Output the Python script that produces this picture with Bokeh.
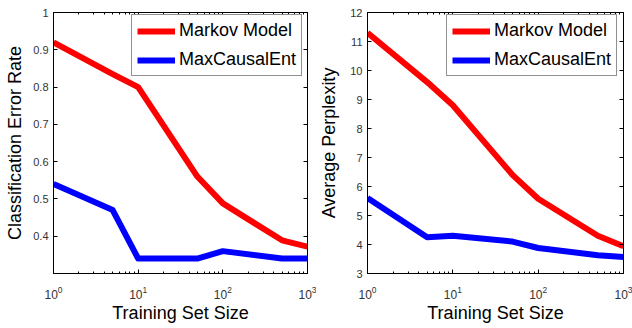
from bokeh.plotting import figure
from bokeh.layouts import row
from bokeh.models import (FixedTicker, LogTickFormatter, LogAxis, LinearAxis,
                          Legend, LegendItem, CustomJSTickFormatter)
from bokeh.embed import file_html
from bokeh.resources import INLINE

# ---- data ----
train_sizes = [1, 5, 10, 50, 100, 500, 1000]
err_markov = [0.92, 0.835, 0.80, 0.56, 0.488, 0.389, 0.372]
err_maxent = [0.54, 0.47, 0.34, 0.34, 0.36, 0.34, 0.34]
ppl_markov = [11.3, 9.6, 8.8, 6.4, 5.58, 4.3, 3.94]
ppl_maxent = [5.6, 4.25, 4.3, 4.1, 3.88, 3.63, 3.57]

x_major = [1, 10, 100, 1000]
x_minor = [m * d for d in [1, 10, 100] for m in range(2, 10)]
err_ticks = [0.4, 0.5, 0.6, 0.7, 0.8, 0.9, 1.0]
ppl_ticks = [3, 4, 5, 6, 7, 8, 9, 10, 11, 12]

series_names = ["Markov Model", "MaxCausalEnt"]
series_colors = ["#ff0000", "#0000ff"]

FONT = "Liberation Sans"
blank = CustomJSTickFormatter(code="return ''")


def style_axis(ax):
    ax.major_tick_in = 4
    ax.major_tick_out = 0
    ax.minor_tick_in = 2
    ax.minor_tick_out = 0
    ax.axis_line_color = "black"
    ax.major_tick_line_color = "black"
    ax.minor_tick_line_color = "black"
    ax.major_label_text_font = FONT
    ax.major_label_text_font_size = "11px"
    ax.major_label_text_color = "#333333"
    ax.axis_label_text_font = FONT
    ax.axis_label_text_font_size = "18px"
    ax.axis_label_text_font_style = "normal"
    ax.axis_label_text_color = "black"


def make_panel(y_m, y_e, yr, yticks, ylabel, overrides, border_left, border_right,
               label_standoff, leg_x):
    p = figure(width=316, height=328, x_axis_type="log", x_range=(1, 1000), y_range=yr,
               output_backend="svg", toolbar_location=None,
               min_border_left=border_left, min_border_right=border_right,
               min_border_top=12, min_border_bottom=55)
    p.background_fill_color = "white"
    p.border_fill_color = "white"
    p.outline_line_color = "black"
    p.outline_line_width = 1
    p.xgrid.visible = False
    p.ygrid.visible = False

    r1 = p.line(train_sizes, y_m, line_color=series_colors[0], line_width=6, line_join="round")
    r2 = p.line(train_sizes, y_e, line_color=series_colors[1], line_width=6, line_join="round")

    xa = p.xaxis[0]
    xa.ticker = FixedTicker(ticks=x_major, minor_ticks=x_minor)
    xa.formatter = LogTickFormatter()
    xa.axis_label = "Training Set Size"
    style_axis(xa)
    xa.major_label_text_font_size = "12px"
    xa.major_label_standoff = 12
    xa.axis_label_standoff = 1

    ya = p.yaxis[0]
    ya.ticker = FixedTicker(ticks=yticks, minor_ticks=[])
    ya.major_label_overrides = overrides
    ya.axis_label = ylabel
    style_axis(ya)
    ya.major_label_standoff = 5
    ya.axis_label_standoff = label_standoff

    top = LogAxis(ticker=FixedTicker(ticks=x_major, minor_ticks=x_minor), formatter=blank)
    style_axis(top)
    top.major_label_standoff = 0
    top.major_label_text_font_size = "0px"
    p.add_layout(top, "above")

    right = LinearAxis(ticker=FixedTicker(ticks=yticks, minor_ticks=[]), formatter=blank)
    style_axis(right)
    right.major_label_standoff = 0
    right.major_label_text_font_size = "0px"
    p.add_layout(right, "right")

    legend = Legend(items=[LegendItem(label=series_names[0], renderers=[r1]),
                           LegendItem(label=series_names[1], renderers=[r2])],
                    location=(leg_x, 197))
    legend.margin = 0
    legend.padding = 5
    legend.spacing = 8
    legend.glyph_width = 38
    legend.glyph_height = 20
    legend.label_height = 20
    legend.label_standoff = 4
    legend.label_text_font = FONT
    legend.label_text_font_size = "18px"
    legend.label_text_color = "black"
    legend.border_line_color = "#222222"
    legend.border_line_width = 1
    legend.background_fill_color = "white"
    legend.background_fill_alpha = 1
    p.add_layout(legend, "center")
    return p


p1 = make_panel(err_markov, err_maxent, (0.3, 1.0), err_ticks,
                "Classification Error Rate", {1: "1"}, 53, 9, 5, 78)
p2 = make_panel(ppl_markov, ppl_maxent, (3, 12), ppl_ticks,
                "Average Perplexity", {}, 51, 9, 8, 79)

layout = row(p1, p2)
open("out.html", "w").write(file_html(layout, INLINE))
